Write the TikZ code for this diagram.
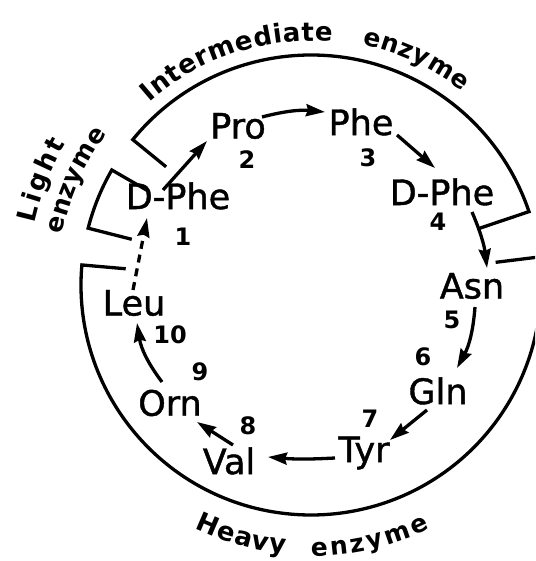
\documentclass[tikz,border=0pt]{standalone}
\usepackage{fontspec}
\newfontfamily\dv{DejaVu Sans}
\newfontfamily\dvb{DejaVu Sans}[FakeBold=1.2]
\usetikzlibrary{arrows.meta,decorations.text}
\begin{document}
\begin{tikzpicture}[x=1pt,y=1pt,
  res/.style={inner sep=0pt, font=\dvb\fontsize{35}{40}\selectfont},
  num/.style={inner sep=0pt, font=\dv\bfseries\fontsize{24}{26}\selectfont},
  bracket/.style={line width=3.3pt},
  conn/.style={line width=3.3pt, -{Stealth[length=19pt,width=12pt,inset=2pt]}},
]
\useasboundingbox (0,0) rectangle (535,561);
\clip (0,0) rectangle (535,561);
\fill[white] (0,0) rectangle (535,561);
\coordinate (C) at (311,276);

% residues
\node[res] (n1) at (178,365) {D-Phe};
\node[res] (n2) at (238,435) {Pro};
\node[res] (n3) at (361,439) {Phe};
\node[res] (n4) at (442,369) {D-Phe};
\node[res] (n5) at (472,275) {Asn};
\node[res] (n6) at (438,170) {Gln};
\node[res] (n7) at (364,108) {Tyr};
\node[res] (n8) at (229,100) {Val};
\node[res] (n9) at (170,158) {Orn};
\node[res] (n10) at (134,258) {Leu};

% numbers
\node[num] (l1) at (183,324) {1};
\node[num] (l2) at (247,401) {2};
\node[num] (l3) at (368,403) {3};
\node[num] (l4) at (438,339) {4};
\node[num] (l5) at (452,241) {5};
\node[num] (l6) at (423,204) {6};
\node[num] (l7) at (370,142) {7};
\node[num] (l8) at (248,135) {8};
\node[num] (l9) at (200,189) {9};
\node[num] (l10) at (170,226) {10};

% connectors
\draw[conn] ([shift={(-15,6)}]n1.center) -- ([shift={(-31,-15)}]n2.center);
\draw[conn] ([shift={(24,9)}]n2.center) to[bend left=10] ([shift={(-36,10)}]n3.center);
\draw[conn] ([shift={(36,-13)}]n3.center) -- ([shift={(-7,24)}]n4.center);
\draw[conn] ([shift={(30,-20)}]n4.center) to[bend left=8] ([shift={(15,18)}]n5.center);
\draw[conn] ([shift={(3,-21)}]n5.center) to[bend left=12] ([shift={(19,23)}]n6.center);
\draw[conn] ([shift={(-11,-19)}]n6.center) -- ([shift={(26,13)}]n7.center);
\draw[conn] ([shift={(-29,-5)}]n7.center) to[bend left=4] ([shift={(39,4)}]n8.center);
\draw[conn] ([shift={(4,16)}]n8.center) -- ([shift={(27,-19)}]n9.center);
\draw[conn] ([shift={(-8,21)}]n9.center) to[bend left=14] ([shift={(3,-20)}]n10.center);
\draw[conn, dash pattern=on 8pt off 6pt] ([shift={(-1,13)}]n10.center) -- ([shift={(-31,-22)}]n1.center);

% enzyme brackets and labels
\begin{scope}[shift={(C)}]
\draw[bracket] (150:187) -- (150:230) arc[start angle=150,end angle=165.7,radius=230] -- (165.7:185);
\draw[bracket] (140.8:187) -- (140.8:230) arc[start angle=140.8,end angle=18.6,radius=230] -- (18.6:178);
\draw[bracket] (175:186) -- (175:230) arc[start angle=175,end angle=367,radius=230] -- (367:186);

\path[decorate, decoration={text along path, text align={fit to path},
  text={|\dv\bfseries\fontsize{26}{26}\selectfont|Light}}]
  (167.5:283) arc[start angle=167.5,end angle=150,radius=283];
\path[decorate, decoration={text along path, text align={fit to path},
  text={|\dv\bfseries\fontsize{25}{26}\selectfont|enzyme}}]
  (168.5:254) arc[start angle=168.5,end angle=143.5,radius=254];
\path[decorate, decoration={text along path, text align={fit to path},
  text={|\dv\bfseries\fontsize{26}{26}\selectfont|Intermediate}}]
  (131.5:244) arc[start angle=131.5,end angle=85,radius=244];
\path[decorate, decoration={text along path, text align={fit to path},
  text={|\dv\bfseries\fontsize{25}{26}\selectfont|enzyme}}]
  (78:246) arc[start angle=78,end angle=52,radius=246];
\path[decorate, decoration={text along path, text align={fit to path},
  text={|\dv\bfseries\fontsize{26}{26}\selectfont|Heavy}}]
  (244.5:270) arc[start angle=244.5,end angle=264.5,radius=270];
\path[decorate, decoration={text along path, text align={fit to path},
  text={|\dv\bfseries\fontsize{25}{26}\selectfont|enzyme}}]
  (270:271) arc[start angle=270,end angle=296,radius=271];
\end{scope}
\end{tikzpicture}
\end{document}
